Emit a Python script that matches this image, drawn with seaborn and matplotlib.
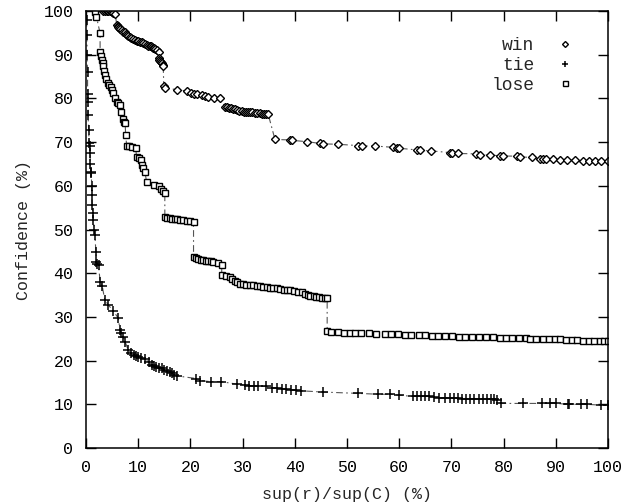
import matplotlib
matplotlib.use("Agg")
import matplotlib.pyplot as plt
import seaborn as sns
import pandas as pd
from matplotlib.lines import Line2D

# ---------------- data ----------------
win_x = [3.3, 3.7, 4.0, 4.3, 4.6, 4.9, 5.2, 5.6, 5.9, 6.1, 6.2, 6.4, 6.6, 6.9, 7.1, 7.4,
         7.6, 7.9, 8.1, 8.4, 8.7, 9.0, 9.4, 9.7, 10.0, 10.4, 10.7, 11.0, 11.3, 11.6,
         11.9, 12.2, 12.4, 12.7, 12.9, 13.1, 13.3, 13.6, 13.9, 13.9, 14.0, 14.2, 14.4,
         14.5, 14.7, 14.8, 14.9, 15.1, 17.4, 19.3, 20.2, 20.7, 21.2, 22.2, 22.8, 23.4,
         24.5, 25.7, 26.6, 27.0, 27.4, 27.8, 28.2, 28.6, 29.0, 29.4, 29.8, 30.2, 30.6,
         31.0, 31.4, 31.8, 32.3, 32.8, 33.3, 33.7, 34.1, 34.5, 34.9, 36.2, 39.1, 39.5,
         42.3, 44.8, 45.4, 48.3, 52.2, 52.8, 55.4, 58.9, 59.5, 60.0, 63.4, 64.0, 66.0,
         69.7, 70.2, 71.3, 74.8, 75.5, 77.4, 79.3, 79.8, 82.5, 83.2, 85.4, 87.0, 87.6,
         88.2, 89.5, 90.8, 92.1, 93.6, 95.2, 96.4, 97.5, 98.7, 100.0]
win_y = [100.0, 100.0, 100.0, 99.9, 99.9, 99.8, 99.6, 99.2, 96.8, 96.6, 96.4, 96.2, 95.9,
         95.6, 95.3, 95.1, 94.8, 94.5, 94.2, 94.0, 93.8, 93.6, 93.4, 93.2, 93.1, 92.9,
         92.8, 92.6, 92.4, 92.2, 92.1, 92.0, 91.9, 91.7, 91.6, 91.5, 91.3, 91.0, 90.7,
         89.2, 88.9, 88.6, 88.3, 88.0, 87.6, 87.3, 82.8, 82.4, 82.0, 81.7, 81.2, 81.1,
         81.0, 80.8, 80.6, 80.4, 80.2, 80.0, 78.1, 78.0, 77.9, 77.7, 77.6, 77.5, 77.4,
         77.2, 77.1, 77.0, 77.0, 76.9, 76.8, 76.8, 76.7, 76.6, 76.6, 76.5, 76.5, 76.4,
         76.4, 70.6, 70.5, 70.4, 70.1, 69.7, 69.6, 69.5, 69.2, 69.1, 69.1, 68.8, 68.7,
         68.6, 68.2, 68.1, 68.0, 67.6, 67.5, 67.4, 67.3, 67.1, 67.0, 66.9, 66.8, 66.8,
         66.6, 66.5, 66.2, 66.2, 66.1, 66.1, 66.0, 65.9, 65.8, 65.7, 65.7, 65.7, 65.6,
         65.6]

tie_x = [0.1, 0.2, 0.2, 0.3, 0.3, 0.4, 0.4, 0.5, 0.6, 0.7, 0.8, 0.8, 0.9, 1.0, 1.1,
         1.1, 1.2, 1.3, 1.4, 1.6, 1.7, 1.9, 2.0, 2.2, 2.4, 2.7, 3.1, 3.6, 4.3, 5.2, 6.2,
         6.5, 6.8, 7.1, 7.5, 8.1, 8.6, 9.1, 9.6, 10.0, 10.6, 11.3, 12.0, 12.6, 13.0,
         13.5, 14.0, 14.5, 15.0, 15.5, 16.0, 16.4, 16.9, 17.4, 21.1, 21.9, 23.9, 25.8,
         29.0, 30.5, 31.3, 32.1, 33.0, 34.5, 35.6, 36.5, 37.6, 38.4, 39.2, 40.2, 41.1,
         45.4, 52.1, 56.0, 58.3, 59.9, 62.6, 63.4, 64.2, 65.0, 65.8, 66.7, 67.7, 68.7,
         69.7, 70.5, 71.3, 72.0, 72.8, 73.6, 74.4, 75.2, 76.0, 76.8, 77.5, 78.1, 78.7,
         79.5, 83.8, 87.3, 88.9, 90.1, 92.4, 92.6, 94.8, 95.9, 98.7, 100.0]
tie_y = [98.0, 94.5, 90.0, 86.0, 81.0, 79.2, 76.2, 72.8, 69.7, 69.0, 67.4, 65.0, 63.2,
         62.9, 60.0, 57.9, 55.6, 53.7, 52.2, 49.9, 48.7, 44.9, 42.6, 42.2, 41.9, 38.1,
         37.1, 33.9, 32.7, 31.4, 29.7, 27.0, 26.3, 25.5, 24.3, 22.4, 21.8, 21.3, 21.0,
         20.8, 20.5, 20.3, 19.7, 19.0, 18.8, 18.6, 18.4, 18.2, 17.9, 17.6, 17.3, 17.1,
         16.8, 16.5, 15.9, 15.4, 15.2, 15.2, 14.6, 14.4, 14.3, 14.2, 14.1, 14.1, 13.8,
         13.7, 13.6, 13.4, 13.3, 13.2, 13.1, 12.8, 12.5, 12.3, 12.3, 12.1, 11.8, 11.8,
         11.8, 11.8, 11.8, 11.6, 11.5, 11.5, 11.5, 11.4, 11.4, 11.3, 11.3, 11.3, 11.3,
         11.2, 11.2, 11.2, 11.2, 11.1, 11.0, 10.2, 10.2, 10.2, 10.2, 10.2, 10.0, 10.0,
         10.0, 10.0, 9.8, 9.8]

lose_x = [1.7, 2.0, 2.7, 2.7, 2.9, 3.0, 3.2, 3.3, 3.5, 3.6, 3.9, 4.2, 4.5, 4.8, 5.0, 5.2,
          5.5, 5.9, 6.2, 6.5, 6.8, 7.1, 7.3, 7.5, 7.6, 7.8, 8.3, 8.8, 9.5, 9.7, 10.1,
          10.5, 10.7, 11.0, 11.3, 11.6, 13.1, 14.0, 14.4, 14.8, 15.1, 15.1, 15.6, 16.1,
          16.5, 17.0, 17.5, 18.0, 18.6, 19.3, 19.9, 20.6, 20.6, 21.0, 21.5, 22.0, 22.5,
          23.0, 23.4, 24.0, 24.4, 25.2, 26.0, 26.0, 26.8, 27.6, 28.0, 28.5, 29.0, 29.5,
          30.0, 30.7, 31.4, 32.0, 32.7, 33.3, 34.0, 34.6, 35.2, 35.8, 36.5, 37.2, 37.9,
          38.5, 39.1, 39.9, 40.7, 41.4, 42.0, 42.5, 43.0, 43.6, 44.1, 44.6, 45.2, 45.7,
          46.2, 46.2, 47.0, 48.2, 49.5, 50.5, 51.5, 52.7, 54.2, 55.5, 57.2, 58.5, 59.8,
          61.1, 62.3, 63.7, 65.0, 66.2, 67.5, 68.8, 70.1, 71.4, 72.7, 74.0, 75.3, 76.6,
          78.0, 79.4, 80.5, 81.7, 83.0, 84.2, 85.1, 86.2, 87.5, 88.7, 89.8, 90.8, 92.0,
          93.1, 94.0, 95.2, 96.3, 97.4, 98.5, 99.3, 100.0]
lose_y = [99.8, 98.7, 94.9, 90.7, 89.7, 88.8, 88.0, 87.3, 86.3, 85.4, 84.4, 83.5, 83.1,
          82.7, 82.0, 81.2, 80.2, 79.2, 78.9, 78.5, 77.0, 75.4, 74.6, 74.3, 71.6, 69.1,
          69.0, 68.9, 68.6, 66.7, 66.3, 65.9, 64.8, 64.0, 63.2, 60.9, 60.2, 60.0, 59.3,
          58.7, 58.3, 52.9, 52.7, 52.6, 52.5, 52.4, 52.3, 52.2, 52.1, 52.0, 51.9, 51.8,
          43.6, 43.4, 43.3, 43.1, 43.0, 42.9, 42.8, 42.7, 42.6, 42.3, 41.9, 39.6, 39.3,
          39.1, 38.7, 38.3, 37.9, 37.6, 37.5, 37.4, 37.3, 37.2, 37.1, 37.0, 36.9, 36.8,
          36.7, 36.6, 36.5, 36.3, 36.1, 36.2, 36.2, 36.0, 35.8, 35.6, 35.3, 35.0, 34.8,
          34.7, 34.6, 34.6, 34.4, 34.3, 34.3, 26.7, 26.6, 26.5, 26.4, 26.4, 26.3, 26.3,
          26.3, 26.2, 26.2, 26.1, 26.0, 25.9, 25.9, 25.8, 25.8, 25.7, 25.7, 25.6, 25.6,
          25.5, 25.4, 25.4, 25.3, 25.3, 25.3, 25.2, 25.2, 25.2, 25.1, 25.1, 25.0, 25.0,
          25.0, 24.9, 24.9, 24.9, 24.8, 24.6, 24.6, 24.5, 24.5, 24.4, 24.4, 24.4, 24.4]

series_names = ["win", "tie", "lose"]
x_ticks = list(range(0, 101, 10))
y_ticks = list(range(0, 101, 10))

# ---------------- styling ----------------
sns.set_theme(style="ticks")
plt.rcParams["font.family"] = ["Liberation Mono", "DejaVu Sans Mono"]
plt.rcParams["font.size"] = 12

fig = plt.figure(figsize=(6.41, 5.03), dpi=100)
ax = fig.add_axes([86 / 641, 1 - 448 / 503, (608 - 86) / 641, (448 - 11) / 503])

dash = (0, (6, 3, 1.5, 3))
styles = {
    "win": dict(marker="D", markersize=3.8, markerfacecolor="white",
                markeredgecolor="black", markeredgewidth=1.0),
    "tie": dict(marker="+", markersize=6.5, markeredgecolor="black",
                markeredgewidth=1.1),
    "lose": dict(marker="s", markersize=4.8, markerfacecolor="white",
                 markeredgecolor="black", markeredgewidth=1.0),
}
data = {"win": (win_x, win_y), "tie": (tie_x, tie_y), "lose": (lose_x, lose_y)}

for name in series_names:
    xs, ys = data[name]
    df = pd.DataFrame({"x": xs, "y": ys})
    sns.lineplot(data=df, x="x", y="y", ax=ax, sort=False, estimator=None,
                 color="#555555", linewidth=0.8, linestyle=dash, zorder=2,
                 **styles[name])

ax.set_xlim(0, 100)
ax.set_ylim(0, 100)
ax.set_xticks(x_ticks)
ax.set_yticks(y_ticks)
ax.tick_params(direction="in", length=7, width=1, top=True, right=True,
               labelsize=12, colors="black")
ax.tick_params(axis="x", pad=9)
ax.tick_params(axis="y", pad=9)
for sp in ax.spines.values():
    sp.set_visible(True)
    sp.set_linewidth(1.1)
    sp.set_color("black")

ax.set_xlabel("sup(r)/sup(C) (%)", fontsize=12, labelpad=8)
ax.set_ylabel("Confidence (%)", fontsize=12, labelpad=9)

leg_sizes = {"win": 3.0, "tie": 5.0, "lose": 3.6}
handles = []
for n in series_names:
    st = dict(styles[n])
    st["markersize"] = leg_sizes[n]
    handles.append(Line2D([], [], linestyle="none", color="black", **st))
leg = ax.legend(handles, series_names, loc="upper right", bbox_to_anchor=(0.935, 0.94),
                frameon=False, markerfirst=False, handlelength=1.0, handletextpad=1.2,
                labelspacing=0.15, fontsize=13, borderpad=0, borderaxespad=0)

fig.savefig("out.png", dpi=100)
